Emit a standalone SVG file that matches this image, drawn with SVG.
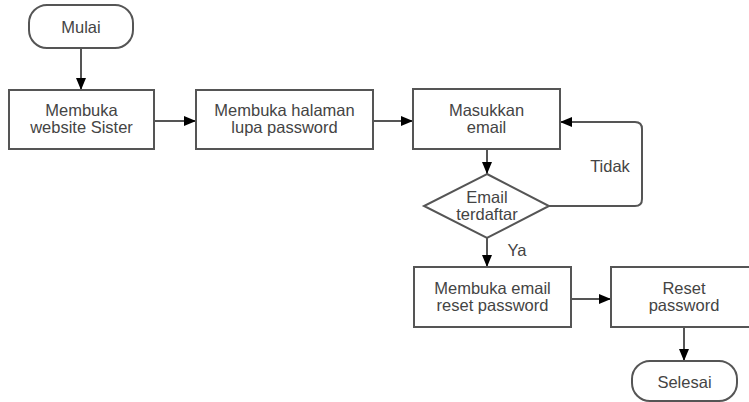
<svg xmlns="http://www.w3.org/2000/svg" width="749" height="402" viewBox="0 0 749 402">
<style>
.shape{fill:#fff;stroke:#555;stroke-width:2}
.conn{fill:none;stroke:#555;stroke-width:2}
text{font-family:"Liberation Sans",Arial,sans-serif;font-size:16.5px;fill:#444;text-anchor:middle}
</style>
<defs>
<marker id="arr" markerUnits="userSpaceOnUse" markerWidth="12" markerHeight="10" refX="12" refY="5" orient="auto">
<path d="M0,0 L12,5 L0,10 z" fill="#000"/>
</marker>
</defs>
<rect width="749" height="402" fill="#fff"/>
<g id="connectors">
<path class="conn" d="M81,48 V90" marker-end="url(#arr)"/>
<path class="conn" d="M154,121 H196" marker-end="url(#arr)"/>
<path class="conn" d="M373,121 H413" marker-end="url(#arr)"/>
<path class="conn" d="M487,149 V174" marker-end="url(#arr)"/>
<path class="conn" d="M549,206 H635 Q642,206 642,199 V129 Q642,122 635,122 H560" marker-end="url(#arr)"/>
<path class="conn" d="M487,238 V267" marker-end="url(#arr)"/>
<path class="conn" d="M571,299 H611" marker-end="url(#arr)"/>
<path class="conn" d="M684,327 V361" marker-end="url(#arr)"/>
<text x="610" y="172">Tidak</text>
<text x="517" y="256">Ya</text>
</g>
<g id="mulai">
<rect class="shape" x="29" y="5" width="104" height="43" rx="18" ry="18"/>
<text x="81" y="33">Mulai</text>
</g>
<g id="membuka-website">
<rect class="shape" x="9" y="90" width="145" height="59"/>
<text x="81.5" y="116">Membuka</text>
<text x="81.5" y="133">website Sister</text>
</g>
<g id="membuka-halaman">
<rect class="shape" x="196" y="90" width="177" height="59"/>
<text x="284.5" y="116">Membuka halaman</text>
<text x="284.5" y="133">lupa password</text>
</g>
<g id="masukkan-email">
<rect class="shape" x="413" y="89" width="147" height="60"/>
<text x="486.5" y="116">Masukkan</text>
<text x="486.5" y="133">email</text>
</g>
<g id="email-terdaftar">
<polygon class="shape" points="487,174 549,206 487,238 424,206"/>
<text x="487" y="203">Email</text>
<text x="487" y="220">terdaftar</text>
</g>
<g id="membuka-email">
<rect class="shape" x="414" y="267" width="157" height="60"/>
<text x="492.5" y="294">Membuka email</text>
<text x="492.5" y="311">reset password</text>
</g>
<g id="reset-password">
<rect class="shape" x="611" y="267" width="146" height="60"/>
<text x="684" y="294">Reset</text>
<text x="684" y="311">password</text>
</g>
<g id="selesai">
<rect class="shape" x="632" y="361" width="105" height="40" rx="18" ry="18"/>
<text x="684.5" y="388">Selesai</text>
</g>
</svg>
